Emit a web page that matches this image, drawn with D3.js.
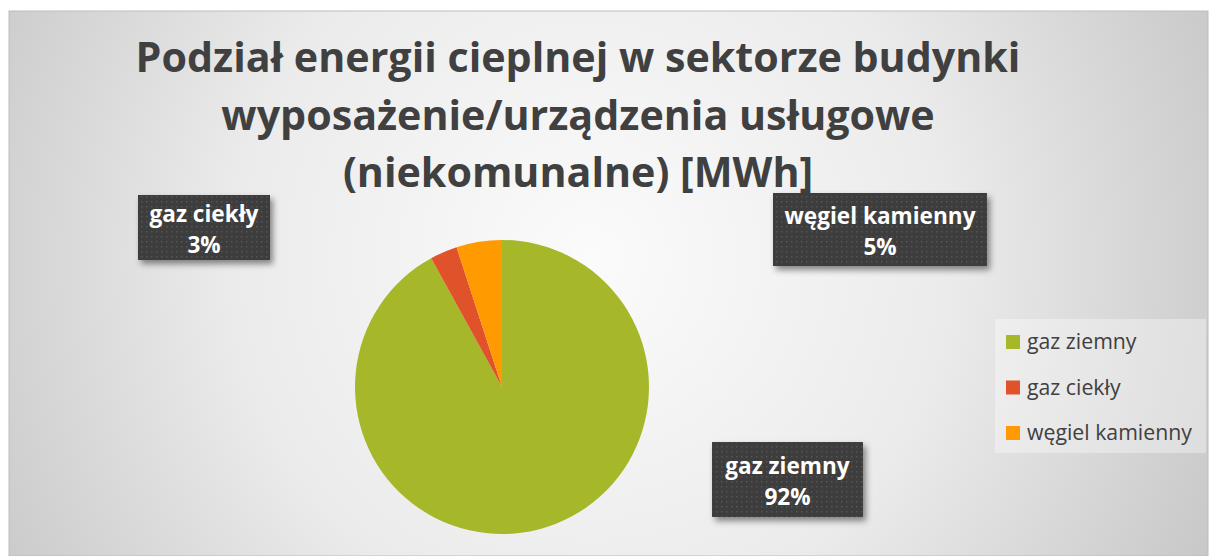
<!DOCTYPE html>
<html>
<head>
<meta charset="utf-8">
<title>Podział energii cieplnej</title>
<script src="https://cdn.jsdelivr.net/npm/d3@7"></script>
<style>
  body { margin: 0; background: #fff; }
  svg { display: block; font-family: "Open Sans", "Noto Sans", sans-serif; }
  .title { font-weight: 700; fill: #404040; }
  .lbl { font-weight: 700; fill: #fff; }
  .leg { fill: #404040; }
</style>
</head>
<body>
<script>
var categories = ["gaz ziemny", "gaz ciekły", "węgiel kamienny"];
var values = [92, 3, 5];
var colors = ["#a6b72a", "#e0522a", "#ff9a00"];
var titleLines = ["Podział energii cieplnej w sektorze budynki",
                  "wyposażenie/urządzenia usługowe",
                  "(niekomunalne) [MWh]"];

var W = 1209, H = 556;
var cx = 502, cy = 387, r = 147;

var svg = d3.select("body").append("svg")
    .attr("width", W).attr("height", H);

var defs = svg.append("defs");

var grad = defs.append("radialGradient")
    .attr("id", "bg").attr("gradientUnits", "userSpaceOnUse")
    .attr("cx", 590).attr("cy", 260).attr("r", 720);
grad.append("stop").attr("offset", "0").attr("stop-color", "#fbfbfb");
grad.append("stop").attr("offset", "0.5").attr("stop-color", "#ebebeb");
grad.append("stop").attr("offset", "1").attr("stop-color", "#c4c4c4");

var pat = defs.append("pattern")
    .attr("id", "dots").attr("patternUnits", "userSpaceOnUse")
    .attr("width", 5).attr("height", 5);
pat.append("rect").attr("width", 5).attr("height", 5).attr("fill", "#3d3d3d");
pat.append("rect").attr("x", 1).attr("y", 1).attr("width", 1.5).attr("height", 1.5)
    .attr("fill", "#555");

var sh = defs.append("filter").attr("id", "shadow")
    .attr("x", "-10%").attr("y", "-10%").attr("width", "130%").attr("height", "140%");
sh.append("feDropShadow").attr("dx", 3).attr("dy", 4).attr("stdDeviation", 3)
    .attr("flood-color", "#000").attr("flood-opacity", 0.45);

// chart area
svg.append("rect")
    .attr("x", 9).attr("y", 11).attr("width", 1199).attr("height", 545)
    .attr("fill", "url(#bg)").attr("stroke", "#bdbdbd").attr("stroke-width", 1);

// title
var titleY = [72, 130, 187];
var title = svg.selectAll(".title").data(titleLines).enter().append("text")
    .attr("class", "title")
    .attr("x", 578).attr("y", (d, i) => titleY[i])
    .attr("text-anchor", "middle")
    .attr("font-size", 40)
    .text(d => d);
var w0 = title.node().getComputedTextLength();
title.attr("font-size", 40 * 885 / w0);

// pie
var pie = d3.pie().sort(null).value(d => d)(values);
var arc = d3.arc().innerRadius(0).outerRadius(r);
svg.append("g").attr("transform", "translate(" + cx + "," + cy + ")")
    .selectAll("path").data(pie).enter().append("path")
    .attr("d", arc)
    .attr("fill", (d, i) => colors[i]);

// data labels
var boxes = [
    {x: 712, y: 442, w: 151, h: 75},
    {x: 138, y: 195, w: 132, h: 65},
    {x: 773, y: 193, w: 214, h: 73}
];
var total = d3.sum(values);
var lab = svg.selectAll(".lblg").data(pie).enter().append("g").attr("class", "lblg");
lab.append("rect")
    .attr("x", (d, i) => boxes[i].x).attr("y", (d, i) => boxes[i].y)
    .attr("width", (d, i) => boxes[i].w).attr("height", (d, i) => boxes[i].h)
    .attr("fill", "url(#dots)").attr("filter", "url(#shadow)");
var l1 = lab.append("text").attr("class", "lbl")
    .attr("x", (d, i) => boxes[i].x + boxes[i].w / 2)
    .attr("y", (d, i) => boxes[i].y + boxes[i].h / 2 - 6)
    .attr("text-anchor", "middle").attr("font-size", 21)
    .text((d, i) => categories[i]);
var l2 = lab.append("text").attr("class", "lbl")
    .attr("x", (d, i) => boxes[i].x + boxes[i].w / 2)
    .attr("y", (d, i) => boxes[i].y + boxes[i].h / 2 + 25)
    .attr("text-anchor", "middle").attr("font-size", 21)
    .text((d, i) => Math.round(d.value / total * 100) + "%");
var lw = l1.filter((d, i) => i === 2).node().getComputedTextLength();
var lfs = 21 * 191 / lw;
l1.attr("font-size", lfs);
l2.attr("font-size", lfs);

// legend
var leg = svg.append("g").attr("transform", "translate(995,319)");
leg.append("rect").attr("width", 211).attr("height", 134)
    .attr("fill", "#fff").attr("fill-opacity", 0.35);
var li = leg.selectAll(".li").data(categories).enter().append("g")
    .attr("transform", (d, i) => "translate(11," + (23 + i * 45.5) + ")");
li.append("rect").attr("y", -7).attr("width", 14).attr("height", 14)
    .attr("fill", (d, i) => colors[i]);
var lt = li.append("text").attr("class", "leg")
    .attr("x", 21).attr("y", 7).attr("font-size", 19)
    .text(d => d);
var gw = lt.filter((d, i) => i === 2).node().getComputedTextLength();
lt.attr("font-size", 19 * 165 / gw);
</script>
</body>
</html>
